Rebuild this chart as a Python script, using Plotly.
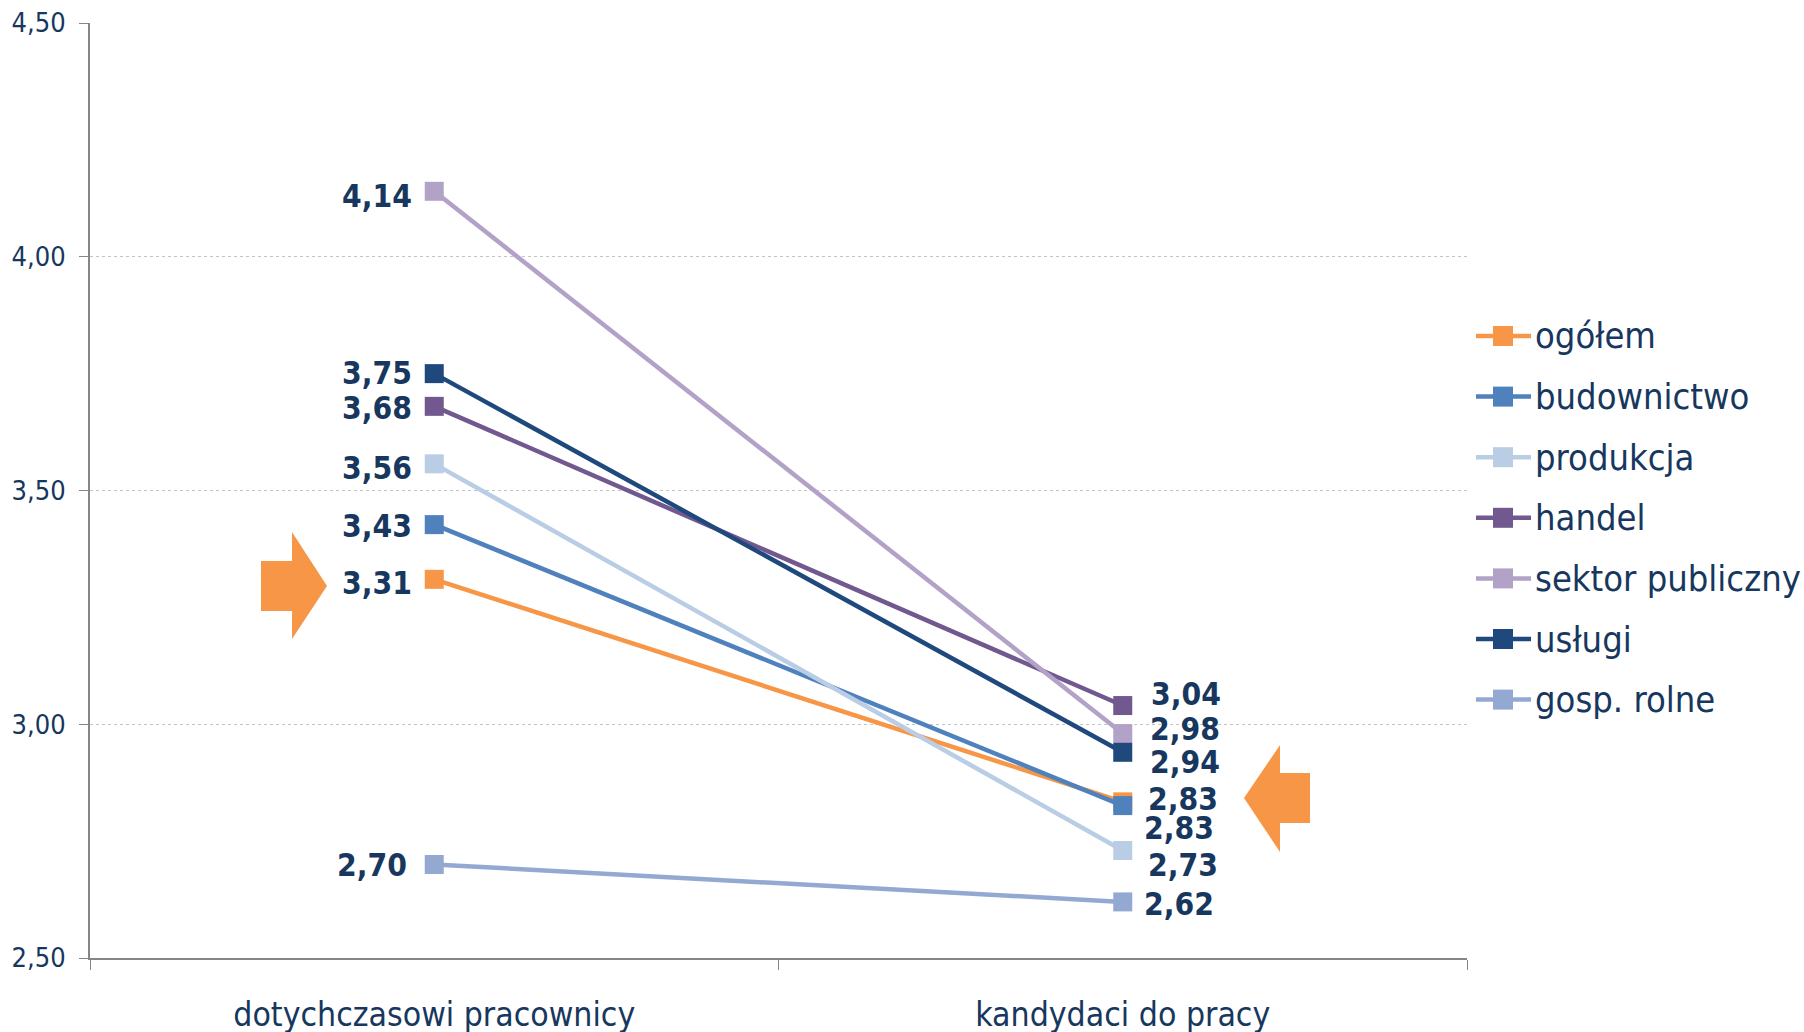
import plotly.graph_objects as go

categories = ["dotychczasowi pracownicy", "kandydaci do pracy"]
series_names = ["ogółem", "budownictwo", "produkcja", "handel",
                "sektor publiczny", "usługi", "gosp. rolne"]
ogolem = [3.31, 2.834]
budownictwo = [3.427, 2.826]
produkcja = [3.557, 2.73]
handel = [3.68, 3.04]
sektor_publiczny = [4.14, 2.98]
uslugi = [3.75, 2.94]
gosp_rolne = [2.70, 2.62]
y_ticks = [2.5, 3.0, 3.5, 4.0, 4.5]

series_values = [ogolem, budownictwo, produkcja, handel,
                 sektor_publiczny, uslugi, gosp_rolne]
colors = ["#F79646", "#4F81BD", "#B9CDE5", "#71588F",
          "#B3A2C7", "#1F497D", "#93A9D1"]

# label offsets (px), as placed in the original to avoid overlap
left_shift = {"ogółem": -4, "budownictwo": -1.5, "produkcja": -4, "handel": -1.5,
              "sektor publiczny": -5, "usługi": 1, "gosp. rolne": -0.5}
right_shift = {"ogółem": 3, "budownictwo": -22, "produkcja": -15, "handel": 12,
               "sektor publiczny": 5, "usługi": -10, "gosp. rolne": -2}
right_xshift = {"handel": 26, "sektor publiczny": 25, "usługi": 25,
                "ogółem": 23, "budownictwo": 19, "produkcja": 23, "gosp. rolne": 19}

FONT = "DejaVu Sans Condensed, DejaVu Sans, sans-serif"
LABEL_COLOR = "#17375E"

W, H = 1804, 1032
L, R, T, B = 90, 337, 23, 74
PW, PH = W - L - R, H - T - B


def px(xp):
    return (xp - L) / PW


def py(yp):
    return (H - B - yp) / PH


fig = go.Figure()
for name, vals, col in zip(series_names, series_values, colors):
    fig.add_trace(go.Scatter(
        x=categories, y=vals, name=name, mode="lines+markers",
        line=dict(color=col, width=4.5),
        marker=dict(symbol="square", size=19, color=col),
        showlegend=False, hoverinfo="skip"))

annotations = []
for name, vals in zip(series_names, series_values):
    t0 = f"{vals[0]:.2f}".replace(".", ",")
    t1 = f"{vals[1]:.2f}".replace(".", ",")
    annotations.append(dict(
        x=categories[0], y=vals[0], xref="x", yref="y", text=t0,
        showarrow=False, xanchor="right", yanchor="middle",
        xshift=-20 if name != "gosp. rolne" else -25, yshift=left_shift[name],
        font=dict(family=FONT, size=31.5, color=LABEL_COLOR, weight="bold")))
    annotations.append(dict(
        x=categories[1], y=vals[1], xref="x", yref="y", text=t1,
        showarrow=False, xanchor="left", yanchor="middle",
        xshift=right_xshift[name], yshift=right_shift[name],
        font=dict(family=FONT, size=31.5, color=LABEL_COLOR, weight="bold")))

shapes = []
left_arrow = (f"M {px(261)},{py(561)} L {px(292)},{py(561)} L {px(292)},{py(532)} "
              f"L {px(327)},{py(586)} L {px(292)},{py(639)} L {px(292)},{py(611)} "
              f"L {px(261)},{py(611)} Z")
right_arrow = (f"M {px(1310)},{py(773)} L {px(1280)},{py(773)} L {px(1280)},{py(745)} "
               f"L {px(1244)},{py(798)} L {px(1280)},{py(852)} L {px(1280)},{py(823)} "
               f"L {px(1310)},{py(823)} Z")
for pth in (left_arrow, right_arrow):
    shapes.append(dict(type="path", path=pth, xref="paper", yref="paper",
                       fillcolor="#F79646", line=dict(width=0), layer="above"))

# custom legend (line sample + square marker + label)
leg_x0, leg_x1, leg_text_x = 1476, 1531, 1533
leg_y0, leg_dy = 336, 60.6
for i, (name, col) in enumerate(zip(series_names, colors)):
    yc = leg_y0 + i * leg_dy
    shapes.append(dict(type="line", xref="paper", yref="paper",
                       x0=px(leg_x0), x1=px(leg_x1), y0=py(yc), y1=py(yc),
                       line=dict(color=col, width=4.5)))
    shapes.append(dict(type="rect", xref="paper", yref="paper",
                       x0=px(1493), x1=px(1513), y0=py(yc - 10), y1=py(yc + 10),
                       fillcolor=col, line=dict(width=0)))
    annotations.append(dict(
        x=px(leg_text_x), y=py(yc), xref="paper", yref="paper", text=name,
        showarrow=False, xanchor="left", yanchor="middle", yshift=0,
        font=dict(family=FONT, size=36, color=LABEL_COLOR)))

fig.update_layout(
    width=W, height=H,
    margin=dict(l=L, r=R, t=T, b=B, pad=0, autoexpand=False),
    paper_bgcolor="white", plot_bgcolor="white",
    separators=", ",
    font=dict(family=FONT, color=LABEL_COLOR),
    showlegend=False,
    annotations=annotations,
    shapes=shapes,
    xaxis=dict(
        type="category", range=[-0.5, 1.5], showgrid=False, automargin=False,
        showline=True, linecolor="#868686", linewidth=2,
        ticks="outside", tickson="boundaries", ticklen=10,
        tickcolor="#868686", tickwidth=1,
        tickfont=dict(family=FONT, size=33.5, color=LABEL_COLOR),
        ticklabelstandoff=26),
    yaxis=dict(
        range=[2.5, 4.5], tickvals=y_ticks, tickformat=".2f", automargin=False,
        showgrid=True, gridcolor="#C4C4C4", griddash="dot", gridwidth=1,
        showline=True, linecolor="#868686", linewidth=2,
        ticks="outside", ticklen=9, tickcolor="#868686", tickwidth=1,
        zeroline=False,
        tickfont=dict(family=FONT, size=27, color=LABEL_COLOR),
        ticklabelstandoff=8),
)

fig.write_html("out.html", config={"displayModeBar": False},
               post_script="document.body.style.margin='0';")
